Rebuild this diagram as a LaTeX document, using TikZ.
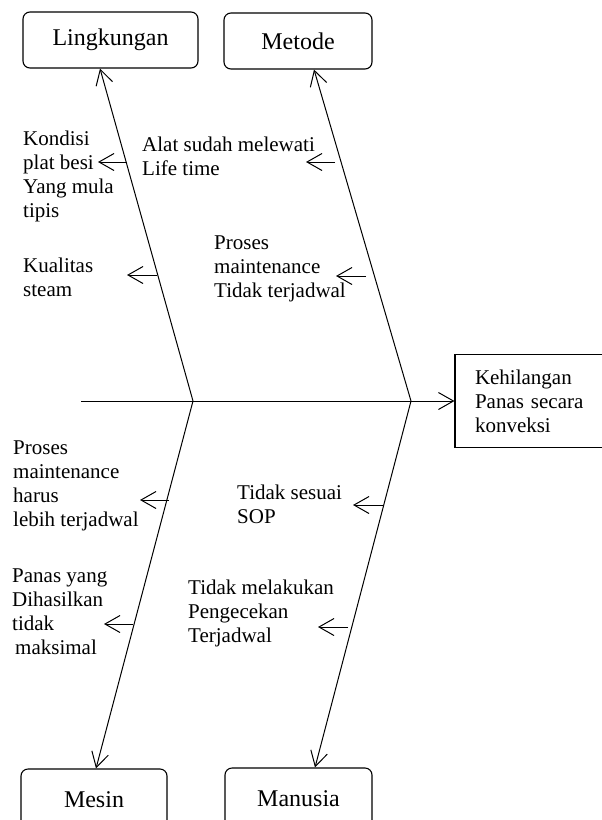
\documentclass[tikz,border=0pt]{standalone}
\usepackage{fontspec}
\setmainfont{Liberation Serif}
\usetikzlibrary{arrows.meta,calc}
\begin{document}
\begin{tikzpicture}[x=1pt,y=-1pt,
  catbox/.style={draw,rounded corners=7pt,line width=1.1pt,inner sep=0pt,font=\fontsize{24}{28}\selectfont},
  effbox/.style={draw,line width=1.1pt,minimum width=160pt,minimum height=93pt,inner xsep=20pt,inner ysep=0pt,text width=120pt,align=left,font=\fontsize{21}{24}\selectfont},
  lbl/.style={anchor=north west,align=left,inner sep=0pt,font=\fontsize{21}{24}\selectfont},
  tip/.style={-{Straight Barb[length=15pt,width=17pt,line width=1pt]}},
  spine/.style={line width=1pt,tip},
  sub/.style={line width=1pt,tip}]
\useasboundingbox (0,0) rectangle (602,820);

% category boxes
\node[catbox,minimum width=175pt,minimum height=56pt] (L) at (110.5,40) {Lingkungan};
\node[catbox,minimum width=148pt,minimum height=56pt] (M) at (298,41) {Metode};
\node[catbox,minimum width=146pt,minimum height=62pt] (Me) at (94,800) {Mesin};
\node[catbox,minimum width=147pt,minimum height=62pt] (Ma) at (298.5,799) {Manusia};

% effect box
\node[effbox] (E) at (535,401) {Kehilangan\\Panas secara\\konveksi};

% backbone
\coordinate (tail) at (81,401);
\coordinate (jL) at (193,401);
\coordinate (jR) at (411,401);
\draw[spine] (tail) -- (E.west);

% main bones
\draw[spine] (jL) -- ([xshift=-10.5pt]L.south);
\draw[spine] (jR) -- ([xshift=16pt]M.south);
\draw[spine] (jL) -- ([xshift=2pt]Me.north);
\draw[spine] (jR) -- ([xshift=16.5pt]Ma.north);

% sub-cause arrows
\coordinate (s1) at (127,162); \coordinate (t1) at (98,162);
\coordinate (s2) at (335,162); \coordinate (t2) at (306,162);
\coordinate (s3) at (157,275); \coordinate (t3) at (127,275);
\coordinate (s4) at (366,276); \coordinate (t4) at (336,276);
\coordinate (s5) at (169,500); \coordinate (t5) at (140,500);
\coordinate (s6) at (383,505); \coordinate (t6) at (353,505);
\coordinate (s7) at (133,624); \coordinate (t7) at (104,624);
\coordinate (s8) at (348,627); \coordinate (t8) at (318,627);
\foreach \i in {1,...,8} {\draw[sub] (s\i) -- (t\i);}

% sub-cause texts
\node[lbl] (c1) at (23,131) {Kondisi\\plat besi\\Yang mula\\tipis};
\node[lbl] (c2) at (142,137) {Alat sudah melewati\\Life time};
\node[lbl] (c3) at (23,258) {Kualitas\\steam};
\node[lbl] (c4) at (214,236) {Proses\\maintenance\\Tidak terjadwal};
\node[lbl] (c5) at (13,441) {Proses\\maintenance\\harus\\lebih terjadwal};
\node[lbl] (c6) at (237,485) {Tidak sesuai\\SOP};
\node[lbl] (c7) at (12,569) {Panas yang\\Dihasilkan\\tidak\\\hspace*{3pt}maksimal};
\node[lbl] (c8) at (188,580) {Tidak melakukan\\Pengecekan\\Terjadwal};
\end{tikzpicture}
\end{document}
